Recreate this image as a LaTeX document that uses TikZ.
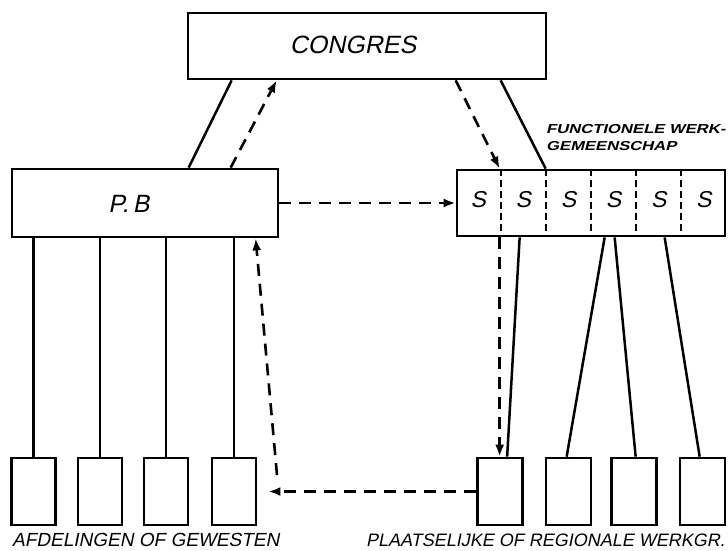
\documentclass[tikz,border=0pt]{standalone}
\usepackage{fontspec}
\usepackage{graphicx}
\setmainfont{Liberation Sans}
\newfontfamily\hand[FakeSlant=0.2]{Liberation Sans}
\usetikzlibrary{arrows.meta,calc}
\begin{document}
\begin{tikzpicture}[x=1pt,y=-1pt,
  box/.style={draw,line width=2.7pt,inner sep=0pt},
  sbx/.style={box,minimum width=44pt,minimum height=67pt},
  link/.style={line width=2.5pt},
  dlink/.style={line width=2.6pt,dash pattern=on 12pt off 8pt},
  arr/.style={-{Latex[length=12pt,width=9pt]}},
  divider/.style={line width=1.9pt,dash pattern=on 7pt off 4pt},
  lab/.style={inner sep=0pt,font=\hand}
]
\useasboundingbox (0,0) rectangle (728,550);
% main boxes
\node[box,minimum width=358pt,minimum height=66pt] (congres) at (367,46) {};
\node[lab,font=\hand\fontsize{25}{30}\selectfont] (tcongres) at (353,45) {CONGRES};
\node[box,minimum width=266pt,minimum height=68pt] (pb) at (145,203) {};
\node[lab,font=\hand\fontsize{25}{30}\selectfont] (tpb) at (129,204) {P.\,B};
\node[box,minimum width=268pt,minimum height=66pt] (sbox) at (591,203) {};
\foreach \k in {1,...,5}{
  \draw[divider] ($(sbox.north west)!\k/6!(sbox.north east)$) -- ($(sbox.south west)!\k/6!(sbox.south east)$);
}
\foreach \k in {1,...,6}{
  \node[lab,font=\hand\fontsize{23}{26}\selectfont] (s\k) at ($(sbox.west)!{(\k-0.5)/6}!(sbox.east)+(0,-3)$) {S};
}
\node[lab,anchor=base west,font=\hand\bfseries\fontsize{13}{15}\selectfont] (fw1) at (546,133) {\scalebox{1.28}[1]{FUNCTIONELE WERK-}};
\node[lab,anchor=base west,font=\hand\bfseries\fontsize{13}{15}\selectfont] (fw2) at (546,150) {\scalebox{1.28}[1]{GEMEENSCHAP}};
% bottom boxes
\foreach \n/\x in {a1/33.5,a2/100,a3/166,a4/234}{
  \node[sbx] (\n) at (\x,491.5) {};
}
\foreach \n/\x in {b1/500,b2/568.5,b3/634,b4/702.5}{
  \node[sbx,minimum width=45pt] (\n) at (\x,491.5) {};
}
% connectors top
\draw[link] ([xshift=45pt]congres.south west) -- ([xshift=178pt]pb.north west);
\draw[dlink,arr] ([xshift=220pt]pb.north west) -- ([xshift=90pt]congres.south west);
\draw[dlink,arr] ([xshift=269pt]congres.south west) -- ([xshift=44pt]sbox.north west);
\draw[link] ([xshift=314pt]congres.south west) -- ([xshift=90pt]sbox.north west);
\draw[dlink,arr] (pb.east) -- (sbox.west);
% left tree
\foreach \n in {a1,a2,a3,a4}{
  \draw[link] (\n.north |- pb.south) -- (\n.north);
}
% right tree
\coordinate (d1) at ([xshift=44pt]sbox.south west);
\draw[dlink,arr] (d1) -- (d1 |- b1.north);
\draw[link] ([xshift=64pt]sbox.south west) -- ([xshift=31pt]b1.north west);
\draw[link] ([xshift=149pt]sbox.south west) -- ([xshift=22pt]b2.north west);
\draw[link] ([xshift=159pt]sbox.south west) -- ([xshift=25.5pt]b3.north west);
\draw[link] ([xshift=209pt]sbox.south west) -- ([xshift=21pt]b4.north west);
% return paths
\draw[dlink,arr,shorten >=11pt] (b1.west) -- (a4.east);
\coordinate (c1) at (277,475);
\draw[dlink,arr] (c1) -- ([xshift=245pt]pb.south west);
% captions
\node[lab,anchor=base west,font=\hand\fontsize{19}{22}\selectfont] (la) at (12,546.5) {AFDELINGEN OF GEWESTEN};
\node[lab,anchor=base west,font=\hand\fontsize{18}{22}\selectfont] (lb) at (366,546.5) {PLAATSELIJKE OF REGIONALE WERKGR.};
\end{tikzpicture}
\end{document}
